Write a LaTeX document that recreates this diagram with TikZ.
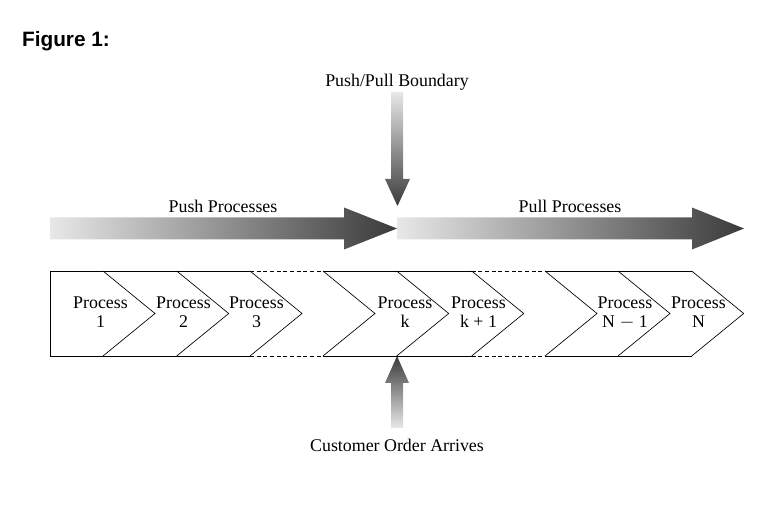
\documentclass[tikz,border=0pt]{standalone}
\usepackage{fontspec}
\setmainfont{Liberation Serif}
\newfontfamily\figfont{Liberation Sans}
\usepackage{tikz}

\definecolor{shadelight}{HTML}{E8E8E8}
\definecolor{shadedark}{HTML}{3A3A3A}

\tikzset{
  lbl/.style={inner sep=0pt, font=\fontsize{13.4}{14.3}\selectfont},
  proc/.style={lbl, align=center},
  chain/.style={line width=0.5pt},
  gap/.style={chain, dash pattern=on 3pt off 2pt}
}

\begin{document}
\begin{tikzpicture}[x=0.75pt,y=-0.75pt]
\useasboundingbox (0,0) rectangle (768,523);

\node[inner sep=0pt, font=\figfont\bfseries\fontsize{15.6}{18}\selectfont] (fig) at (66,41){Figure 1:};

% block arrows
\shade[left color=shadelight, right color=shadedark]
  (50,217.5) -- (344,217.5) -- (344,207.5) -- (397,228.5) -- (344,249.5) -- (344,239.5) -- (50,239.5) -- cycle;
\shade[left color=shadelight, right color=shadedark]
  (397,217.5) -- (692,217.5) -- (692,207.5) -- (744,228.5) -- (692,249.5) -- (692,239.5) -- (397,239.5) -- cycle;
\shade[top color=shadelight, bottom color=shadedark]
  (391,92) -- (403,92) -- (403,179) -- (410,179) -- (397.5,206) -- (385,179) -- (391,179) -- cycle;
\shade[top color=shadedark, bottom color=shadelight]
  (397,356) -- (409,383) -- (403,383) -- (403,428) -- (391,428) -- (391,383) -- (385,383) -- cycle;

\node[lbl] (boundary) at (397,82){Push/Pull Boundary};
\node[lbl] (push) at (223,206){Push Processes};
\node[lbl] (pull) at (570,206){Pull Processes};
\node[lbl] (order) at (397,445){Customer Order Arrives};

% process chain
\draw[chain] (250,271) -- (50,271) -- (50,356) -- (250,356);
\draw[chain] (323,271) -- (471.7,271);
\draw[chain] (323,356) -- (471.7,356);
\draw[chain] (545,271) -- (691.7,271);
\draw[chain] (545,356) -- (691.7,356);
\draw[gap] (250,271) -- (323,271);
\draw[gap] (250,356) -- (323,356);
\draw[gap] (471.7,271) -- (545,271);
\draw[gap] (471.7,356) -- (545,356);
\foreach \x in {103,176.7,250,323,396.7,471.7,545,618,691.7}
  \draw[chain] (\x,271) -- (\x+52,313.5) -- (\x,356);

\node[proc] (p1) at (100.5,312.5){Process\\1};
\node[proc] (p2) at (183.5,312.5){Process\\2};
\node[proc] (p3) at (256.5,312.5){Process\\3};
\node[proc] (pk) at (405,312.5){Process\\k};
\node[proc] (pk1) at (478.5,312.5){Process\\k + 1};
\node[proc] (pn1) at (625,312.5){Process\\N $-$ 1};
\node[proc] (pn) at (698.5,312.5){Process\\N};
\end{tikzpicture}
\end{document}
